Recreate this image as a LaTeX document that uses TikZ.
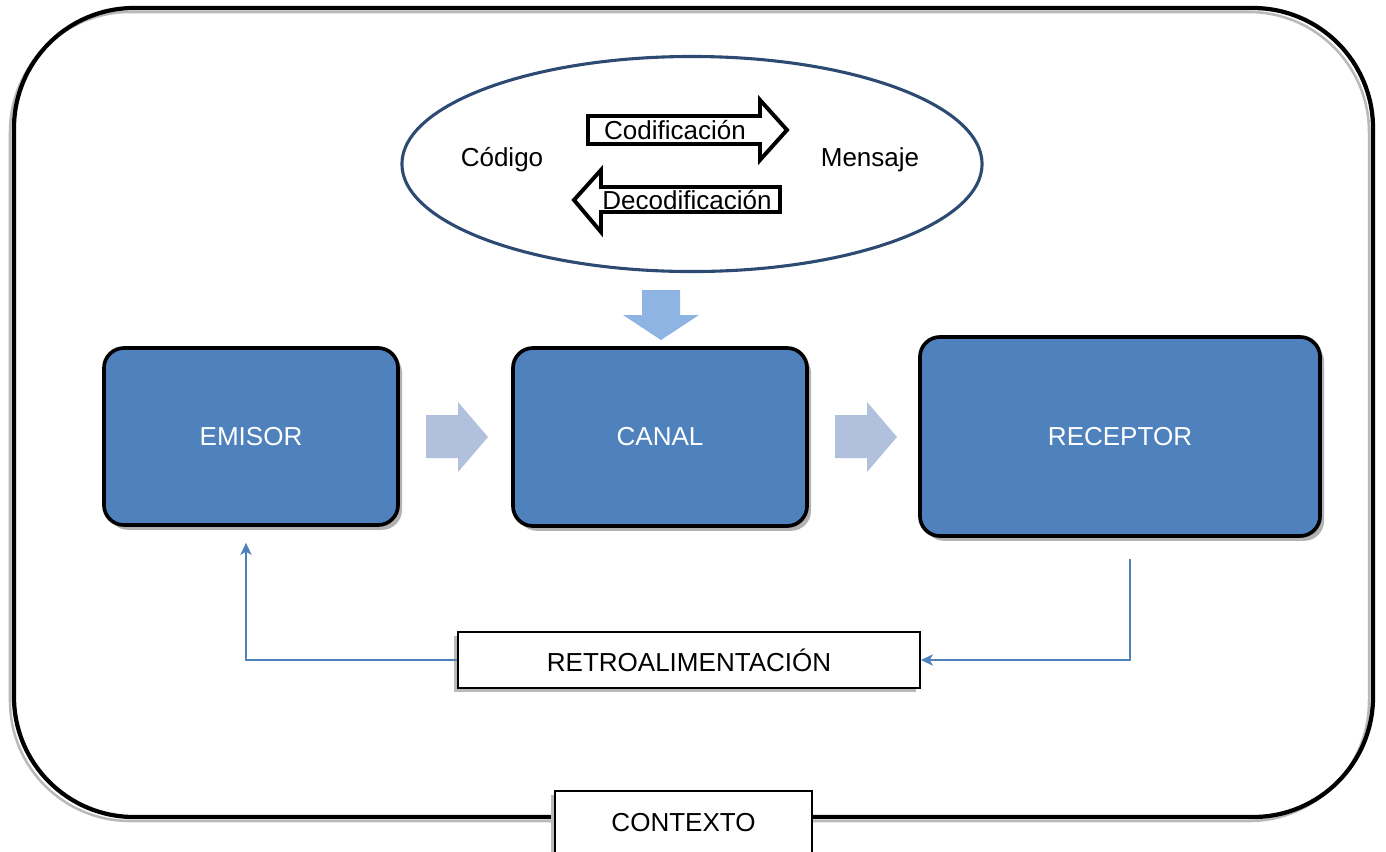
\documentclass[tikz,border=0pt]{standalone}
\usepackage{fontspec}
\setmainfont{Liberation Sans}
\usepackage{tikz}
\usetikzlibrary{arrows.meta,positioning,shapes.geometric,shadows,calc}
\definecolor{boxblue}{HTML}{4F81BD}
\definecolor{navy}{HTML}{2C4A72}
\definecolor{paleblue}{HTML}{B1C1DD}
\definecolor{skyblue}{HTML}{8EB4E3}
\tikzset{
  bigtext/.style={font=\fontsize{18.5}{22}\selectfont},
  frameline/.style={draw, line width=3pt, rounded corners=3cm},
  frameshadow/.style={draw=gray!55, line width=1.8pt, rounded corners=3cm},
  stage/.style={draw, rounded corners=0.5cm, line width=2.6pt, fill=boxblue, text=white, bigtext, drop shadow={shadow xshift=0.1cm, shadow yshift=-0.12cm, fill=black, opacity=0.3}},
  codebubble/.style={draw=navy, ellipse, line width=2.2pt, minimum width=14.5cm, minimum height=5.375cm},
  codearrow/.style={draw, line width=2.8pt, fill=white, line join=miter},
  flowarrow/.style={fill=paleblue},
  downarrow/.style={fill=skyblue},
  infobox/.style={draw, line width=1.2pt, fill=white, bigtext, drop shadow={shadow xshift=-0.1cm, shadow yshift=-0.1cm, fill=gray!55, opacity=1}},
  feedback/.style={draw=boxblue, line width=1.5pt, -{Stealth[length=0.3cm, width=0.28cm, inset=0.08cm]}}
}
\begin{document}
\begin{tikzpicture}[x=0.025cm,y=-0.025cm]
  \useasboundingbox (0,0) rectangle (1386,851);
  \draw[frameshadow] (10,12) rectangle (1369,821);
  \draw[frameline] (14,8) rectangle (1373,817);
  \node[codebubble] (bubble) at (692,164) {};
  \node[bigtext] (codigo) at (502,160) {Código};
  \node[bigtext] (mensaje) at (870,160) {Mensaje};
  \draw[codearrow] (588,116) -- (760,116) -- (760,100) -- (787,130) -- (760,160) -- (760,144) -- (588,144) -- cycle;
  \node[bigtext] (codif) at (675,130) {Codificación};
  \draw[codearrow] (780,187) -- (601,187) -- (601,170) -- (574,200) -- (601,232) -- (601,212) -- (780,212) -- cycle;
  \node[bigtext] (decodif) at (687,200) {Decodificación};
  \fill[downarrow] (642,290) -- (680,290) -- (680,315) -- (699,315) -- (661,340) -- (623,315) -- (642,315) -- cycle;
  \node[stage, minimum width=7.35cm, minimum height=4.425cm] (emisor) at (251,436.5) {EMISOR};
  \node[stage, minimum width=7.35cm, minimum height=4.45cm] (canal) at (660,437) {CANAL};
  \node[stage, minimum width=10cm, minimum height=4.975cm] (receptor) at (1120,436.5) {RECEPTOR};
  \foreach \dx in {0,409} {
    \fill[flowarrow, shift={(\dx,0)}] (426,415) -- (458,415) -- (458,402) -- (488,437) -- (458,472) -- (458,458) -- (426,458) -- cycle;
  }
  \node[infobox, minimum width=11.55cm, minimum height=1.4cm] (retro) at (689,660) {RETROALIMENTACIÓN};
  \draw[feedback] ([xshift=0.25cm, yshift=-0.525cm]receptor.south) |- (retro.east);
  \draw[feedback] (retro.west) -| ([xshift=-0.125cm, yshift=-0.4cm]emisor.south);
  \node[infobox, minimum width=6.425cm, minimum height=1.6cm, anchor=north] (contexto) at (683.5,790) {CONTEXTO};
\end{tikzpicture}
\end{document}
